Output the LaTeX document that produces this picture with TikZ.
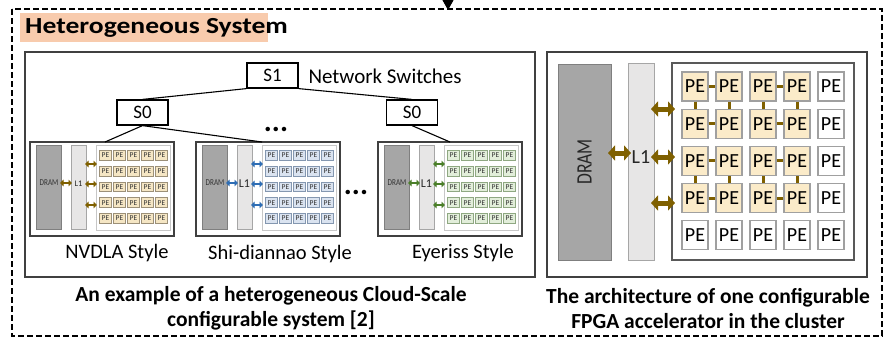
\documentclass[tikz,border=0pt]{standalone}
\usepackage{fontspec}
\usepackage{graphicx}
\setmainfont{Carlito}
\newfontfamily\narrowfont{Carlito}[FakeStretch=0.8]
\usetikzlibrary{arrows.meta}

\definecolor{titlebg}{HTML}{F8CBAD}
\definecolor{panelline}{HTML}{404040}
\definecolor{dramfill}{HTML}{A6A6A6}
\definecolor{dramline}{HTML}{7F7F7F}
\definecolor{lonefill}{HTML}{E7E6E6}
\definecolor{loneline}{HTML}{A6A6A6}
\definecolor{pefill}{HTML}{FBEBC9}
\definecolor{peline}{HTML}{A0A0A0}
\definecolor{linkbrown}{HTML}{7F6000}
\definecolor{nvfill}{HTML}{F5E6C4}
\definecolor{nvline}{HTML}{9C9078}
\definecolor{nvarrow}{HTML}{7F6000}
\definecolor{sdfill}{HTML}{DAE3F0}
\definecolor{sdline}{HTML}{8497B0}
\definecolor{sdarrow}{HTML}{2E6DB4}
\definecolor{eyfill}{HTML}{E2EEDA}
\definecolor{eyline}{HTML}{8FA882}
\definecolor{eyarrow}{HTML}{4B7F2A}

\tikzset{
  frame/.style={line width=2pt, dash pattern=on 6pt off 3pt},
  panel/.style={draw=panelline, line width=1.3pt, inner sep=0pt, outer sep=0pt, anchor=north west},
  switchbox/.style={draw=black, line width=1.2pt, inner sep=0pt, minimum width=51pt, minimum height=25pt, font=\fontsize{19}{22}\selectfont},
  wire/.style={draw=black, line width=1.1pt},
  blk/.style={inner sep=0pt, outer sep=0pt, anchor=north west},
  bigpe/.style={draw=peline, line width=1.3pt, fill=white, inner sep=0pt, minimum width=26pt, minimum height=29pt, font=\fontsize{20}{22}\selectfont},
  bigpeon/.style={bigpe, fill=pefill},
  pelink/.style={draw=linkbrown, line width=3pt},
  bigio/.style={draw=linkbrown, line width=5pt, shorten <=-3pt, shorten >=-3pt,
                {Triangle[width=15pt,length=7pt]}-{Triangle[width=15pt,length=7pt]}},
  smallio/.style={line width=2.2pt, shorten <=-1pt, shorten >=-1pt,
                {Triangle[width=6.5pt,length=3.5pt]}-{Triangle[width=6.5pt,length=3.5pt]}},
  lbl/.style={font=\fontsize{20.5}{24}\selectfont},
  caption/.style={font=\bfseries\fontsize{21.5}{25}\selectfont, align=center},
  dots/.style={font=\bfseries\fontsize{30}{30}\selectfont, inner sep=0pt}
}

\begin{document}
\begin{tikzpicture}[x=1pt,y=-1pt]
\useasboundingbox (0,0) rectangle (885,341);

% outer dashed frame and the incoming arrow
\draw[frame] (12,9) rectangle (882,336);
\coordinate (feed) at (448,-2);
\coordinate (framein) at (448,10);
\draw[line width=1pt, -{Triangle[width=11pt,length=10pt]}] (feed) -- (framein);

% title tab
\node[blk, fill=titlebg, minimum width=248pt, minimum height=29pt] (titletab) at (20,13) {};
\node[anchor=west, inner sep=0pt] (title) at (25,27.5)
  {\scalebox{1.2}[1]{\bfseries\fontsize{23}{26}\selectfont Heterogeneous System}};

% the two panels
\node[panel, minimum width=510pt, minimum height=225pt] (leftpanel) at (25,52) {};
\node[panel, minimum width=320pt, minimum height=225pt] (rightpanel) at (547,52) {};

% switch tree
\node[switchbox] (s1) at (272.5,75.5) {S1};
\node[anchor=west, font=\fontsize{21}{22}\selectfont] (nslabel) at (305,76) {Network Switches};
\node[switchbox] (s0l) at (142.5,112.5) {S0};
\node[switchbox] (s0r) at (412,112.5) {S0};
\draw[wire] (s1.south west) -- (s0l.north);
\draw[wire] (s1.south east) -- (s0r.north);

% three small accelerators
\foreach \xo/\nm/\pf/\pd/\ac/\lf in {30/nv/nvfill/nvline/nvarrow/8.5, 196/sd/sdfill/sdline/sdarrow/12, 378/ey/eyfill/eyline/eyarrow/12}{
  \node[blk, draw=panelline, line width=1.2pt, fill=white, minimum width=144pt, minimum height=94pt] (\nm-box) at (\xo,142) {};
  \node[blk, draw=dramline, line width=0.8pt, fill=dramfill, minimum width=25pt, minimum height=84pt] (\nm-dram) at (\xo+6,145) {};
  \node[blk, draw=loneline, line width=0.8pt, fill=lonefill, minimum width=15pt, minimum height=84pt] (\nm-l1) at (\xo+41,145) {};
  \node[blk, draw=black!22, line width=1pt, fill=white, minimum width=74pt, minimum height=85pt] (\nm-arr) at (\xo+66,145) {};
  \node[font=\narrowfont\fontsize{9}{9}\selectfont, text=black!80, inner sep=0pt] (\nm-dramtxt) at (\xo+19,183) {DRAM};
  \node[font=\fontsize{\lf}{\lf}\selectfont, text=black!85, inner sep=0pt] (\nm-l1txt) at (\xo+48.5,184) {L1};
  \foreach \i in {0,...,4}{
    \foreach \j in {0,...,4}{
      \node[draw=\pd, line width=0.9pt, fill=\pf, minimum width=12pt, minimum height=9.5pt, inner sep=0pt,
            font=\fontsize{7.5}{8}\selectfont, text=black!80] (\nm-pe-\i-\j) at ({\xo+75.5+14*\i},{155.5+15.7*\j}) {PE};
    }
  }
  \coordinate (\nm-a0) at (\xo,183);
  \coordinate (\nm-a1) at (\xo,164);
  \coordinate (\nm-a2) at (\xo,184);
  \coordinate (\nm-a3) at (\xo,205);
  \draw[smallio, draw=\ac] (\nm-dram.east |- \nm-a0) -- (\nm-l1.west |- \nm-a0);
  \foreach \k in {1,2,3}{
    \draw[smallio, draw=\ac] (\nm-l1.east |- \nm-a\k) -- (\nm-arr.west |- \nm-a\k);
  }
}

% tree wires down to the accelerators
\draw[wire] (s0l.south) -- ([xshift=75pt]nv-box.north west);
\draw[wire] (s0l.south) -- ([xshift=66pt]sd-box.north west);
\draw[wire] (s0r.south) -- ([xshift=72pt]ey-box.north west);

% ellipses
\node[dots] (dotstop) at (276,129) {...};
\node[dots] (dotsmid) at (356,192) {...};

% style labels
\node[lbl] (nvlabel) at (117,253) {NVDLA Style};
\node[lbl] (sdlabel) at (280,254) {Shi-diannao Style};
\node[lbl] (eylabel) at (463,253) {Eyeriss Style};

% configurable FPGA accelerator
\node[blk, draw=dramline, line width=1pt, fill=dramfill, minimum width=53pt, minimum height=196pt] (bdram) at (558,64) {};
\node[font=\narrowfont\fontsize{22}{22}\selectfont, text=black!85, rotate=90] (bdramtxt) at (bdram.center) {DRAM};
\node[blk, draw=loneline, line width=1pt, fill=lonefill, minimum width=26pt, minimum height=197pt] (bl1) at (628,63) {};
\node[font=\fontsize{20}{22}\selectfont, text=black!85, inner sep=0pt] (bl1txt) at (641,157) {L1};
\node[blk, draw=black!65, line width=1.3pt, fill=white, minimum width=182pt, minimum height=197pt] (barr) at (672,63) {};

\foreach \i in {0,...,3}{
  \foreach \j in {0,...,3}{
    \node[bigpeon] (pe-\i-\j) at ({695+34*\i},{86.5+37.2*\j}) {PE};
  }
}
\foreach \j in {0,...,4}{
  \node[bigpe] (pe-4-\j) at ({831},{86.5+37.2*\j}) {PE};
}
\foreach \i in {0,...,3}{
  \node[bigpe] (pe-\i-4) at ({695+34*\i},{86.5+37.2*4}) {PE};
}

% local links inside each 2x2 group
\foreach \j in {0,...,3}{
  \draw[pelink] (pe-0-\j) -- (pe-1-\j);
  \draw[pelink] (pe-2-\j) -- (pe-3-\j);
}
\foreach \i in {0,...,3}{
  \draw[pelink] (pe-\i-0) -- (pe-\i-1);
  \draw[pelink] (pe-\i-2) -- (pe-\i-3);
}

% memory ports
\coordinate (bp0) at (600,153);
\coordinate (bp1) at (600,109);
\coordinate (bp2) at (600,157);
\coordinate (bp3) at (600,203);
\draw[bigio] (bdram.east |- bp0) -- (bl1.west |- bp0);
\foreach \k in {1,2,3}{
  \draw[bigio] (bl1.east |- bp\k) -- (barr.west |- bp\k);
}

% captions
\node[caption] (capleft) at (271,308.5) {An example of a heterogeneous Cloud-Scale\\configurable system [2]};
\node[caption] (capright) at (708,308.5) {The architecture of one configurable\\FPGA accelerator in the cluster};
\end{tikzpicture}
\end{document}
